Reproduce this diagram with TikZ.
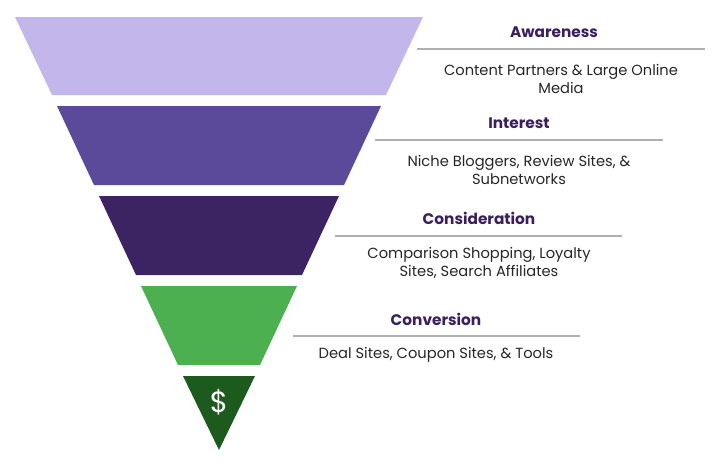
\documentclass[tikz,border=0pt]{standalone}
\usepackage{fontspec}
\setmainfont{Poppins}
\usetikzlibrary{positioning}
\definecolor{awarecol}{HTML}{C3B6EB}
\definecolor{interestcol}{HTML}{5A4A99}
\definecolor{considercol}{HTML}{3C2462}
\definecolor{convertcol}{HTML}{4CAF50}
\definecolor{dollarcol}{HTML}{1C5A1E}
\definecolor{titlecol}{HTML}{3A1F5C}
\definecolor{rulecol}{HTML}{B0B0B0}
\tikzset{
  stagetitle/.style={font=\fontsize{11.5}{13}\selectfont\bfseries, text=titlecol, inner sep=0.75pt},
  stagetext/.style={font=\fontsize{11}{14}\selectfont, text=black!85, align=center, inner sep=0.75pt},
  stagerule/.style={draw=rulecol, line width=0.8pt}
}
\begin{document}
\begin{tikzpicture}[x=0.75pt,y=0.75pt,yscale=-1,xscale=1]
\useasboundingbox (0,0) rectangle (717,465);

% funnel slices
\fill [awarecol] (15,17) -- (423,17) -- (386,95) -- (52,95) -- cycle ;
\fill [interestcol] (57,106) -- (381,106) -- (344,185) -- (94,185) -- cycle ;
\fill [considercol] (99,196) -- (339,196) -- (302,275) -- (136,275) -- cycle ;
\fill [convertcol] (141,286) -- (297,286) -- (260,365) -- (178,365) -- cycle ;
\fill [dollarcol] (183,376) -- (255,376) -- (219,450) -- cycle ;
\node (dollar) at (219,402) [text=white, font=\fontsize{22}{24}\selectfont] {\$};

% rules
\coordinate (r1a) at (417,49); \coordinate (r1b) at (705,49);
\coordinate (r2a) at (375,140); \coordinate (r2b) at (663,140);
\coordinate (r3a) at (335,236); \coordinate (r3b) at (622,236);
\coordinate (r4a) at (293,336); \coordinate (r4b) at (580,336);
\draw [stagerule] (r1a) -- (r1b) ;
\draw [stagerule] (r2a) -- (r2b) ;
\draw [stagerule] (r3a) -- (r3b) ;
\draw [stagerule] (r4a) -- (r4b) ;

% Text Node
\node (t1) at (554,32) [stagetitle] {Awareness};
\node (d1) at (561,79) [stagetext] {Content Partners \& Large Online\\Media};
\node (t2) at (519,123) [stagetitle] {Interest};
\node (d2) at (519,170) [stagetext] {Niche Bloggers, Review Sites, \&\\Subnetworks};
\node (t3) at (479,218) [stagetitle] {Consideration};
\node (d3) at (479,263) [stagetext] {Comparison Shopping, Loyalty\\Sites, Search Affiliates};
\node (t4) at (436,319) [stagetitle] {Conversion};
\node (d4) at (436,355) [stagetext] {Deal Sites, Coupon Sites, \& Tools};
\end{tikzpicture}
\end{document}
